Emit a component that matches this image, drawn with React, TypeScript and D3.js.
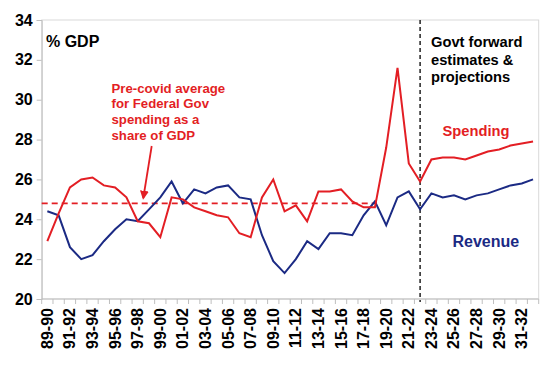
import React, { useRef, useEffect } from "react";
import * as d3 from "d3";

const years = [
  "89-90", "90-91", "91-92", "92-93", "93-94", "94-95", "95-96", "96-97",
  "97-98", "98-99", "99-00", "00-01", "01-02", "02-03", "03-04", "04-05",
  "05-06", "06-07", "07-08", "08-09", "09-10", "10-11", "11-12", "12-13",
  "13-14", "14-15", "15-16", "16-17", "17-18", "18-19", "19-20", "20-21",
  "21-22", "22-23", "23-24", "24-25", "25-26", "26-27", "27-28", "28-29",
  "29-30", "30-31", "31-32", "32-33",
];

const spending = [
  22.9, 24.3, 25.6, 26.0, 26.1, 25.7, 25.6, 25.1, 23.9, 23.8, 23.1, 25.1,
  25.0, 24.6, 24.4, 24.2, 24.1, 23.3, 23.1, 25.1, 26.0, 24.4, 24.7, 23.9,
  25.4, 25.4, 25.5, 24.9, 24.6, 24.6, 27.6, 31.6, 26.8, 25.9, 27.0, 27.1,
  27.1, 27.0, 27.2, 27.4, 27.5, 27.7, 27.8, 27.9,
];

const revenue = [
  24.4, 24.2, 22.6, 22.0, 22.2, 22.9, 23.5, 24.0, 23.9, 24.5, 25.1, 25.9,
  24.8, 25.5, 25.3, 25.6, 25.7, 25.1, 25.0, 23.2, 21.9, 21.3, 22.0, 22.9,
  22.5, 23.3, 23.3, 23.2, 24.2, 24.9, 23.7, 25.1, 25.4, 24.5, 25.3, 25.1,
  25.2, 25.0, 25.2, 25.3, 25.5, 25.7, 25.8, 26.0,
];

const yTicks = [20, 22, 24, 26, 28, 30, 32, 34];
// label every second financial year
const xTickLabels = years.filter((_, i) => i % 2 === 0);

const preCovidAvg = 24.8;
const avgEndYear = "18-19";
const forecastStart = "22-23";

const noteLines = ["Pre-covid average", "for Federal Gov", "spending as a", "share of GDP"];
const forecastLines = ["Govt forward", "estimates &", "projections"];

const RED = "#e31e24";
const NAVY = "#1b2a84";
const FONT = "'Liberation Sans', Arial, sans-serif";

const BudgetChart = ({ width, height }: { width: number; height: number }) => {
  const d3Container = useRef(null);

  useEffect(() => {
    d3.select(d3Container.current).selectAll("*").remove();

    const svg = d3
      .select(d3Container.current)
      .attr("width", width)
      .attr("height", height)
      .style("font-family", FONT);

    const left = 41.7;
    const right = 538.7;
    const top = 20;
    const bottom = 299;

    const xScale = d3.scaleBand().domain(years).range([left, right]).padding(0);
    const yScale = d3.scaleLinear().domain([20, 34]).range([bottom, top]);
    const cx = (yr: string) => (xScale(yr) as number) + xScale.bandwidth() / 2;

    // plot frame
    svg
      .append("rect")
      .attr("x", left)
      .attr("y", top)
      .attr("width", right - left)
      .attr("height", bottom - top)
      .attr("fill", "none")
      .attr("stroke", "#d9d9d9")
      .attr("stroke-width", 1);

    // y axis
    const yAxis = svg
      .append("g")
      .attr("transform", `translate(${left},0)`)
      .call(d3.axisLeft(yScale).tickValues(yTicks).tickSize(5).tickPadding(4));
    yAxis.select(".domain").attr("stroke", "#bfbfbf");
    yAxis.selectAll(".tick line").attr("stroke", "#bfbfbf");
    yAxis
      .selectAll(".tick text")
      .attr("fill", "#000")
      .style("font-size", "16px")
      .style("font-weight", "bold")
      .style("font-family", FONT);

    // x axis: tick marks on category boundaries
    const xAxis = svg.append("g").attr("transform", `translate(0,${bottom})`);
    xAxis
      .append("line")
      .attr("x1", left)
      .attr("x2", right)
      .attr("stroke", "#bfbfbf");
    xAxis
      .selectAll("line.tk")
      .data(years.concat(["end"]))
      .enter()
      .append("line")
      .attr("class", "tk")
      .attr("x1", (d: string) => (d === "end" ? right : (xScale(d) as number)))
      .attr("x2", (d: string) => (d === "end" ? right : (xScale(d) as number)))
      .attr("y1", 0)
      .attr("y2", 5)
      .attr("stroke", "#bfbfbf");
    xAxis
      .selectAll("text")
      .data(xTickLabels)
      .enter()
      .append("text")
      .attr("transform", (d: string) => `translate(${cx(d) + 5.5},9) rotate(-90)`)
      .attr("text-anchor", "end")
      .style("font-size", "16px")
      .style("font-weight", "bold")
      .text((d: string) => d);

    // pre-covid average
    svg
      .append("line")
      .attr("x1", left)
      .attr("x2", cx(avgEndYear) + 2)
      .attr("y1", yScale(preCovidAvg))
      .attr("y2", yScale(preCovidAvg))
      .attr("stroke", RED)
      .attr("stroke-width", 1.8)
      .attr("stroke-dasharray", "6,4");

    // forecast divider
    svg
      .append("line")
      .attr("x1", cx(forecastStart))
      .attr("x2", cx(forecastStart))
      .attr("y1", top)
      .attr("y2", bottom + 3)
      .attr("stroke", "#222")
      .attr("stroke-width", 1.5)
      .attr("stroke-dasharray", "4,3");

    const line = d3
      .line<number>()
      .x((_, i) => cx(years[i]))
      .y((d) => yScale(d));

    svg
      .append("path")
      .datum(revenue)
      .attr("d", line)
      .attr("fill", "none")
      .attr("stroke", NAVY)
      .attr("stroke-width", 2);

    svg
      .append("path")
      .datum(spending)
      .attr("d", line)
      .attr("fill", "none")
      .attr("stroke", RED)
      .attr("stroke-width", 2);

    // labels
    svg
      .append("text")
      .attr("x", 46)
      .attr("y", 47)
      .style("font-size", "16px")
      .style("font-weight", "bold")
      .text("% GDP");

    svg
      .append("g")
      .selectAll("text")
      .data(noteLines)
      .enter()
      .append("text")
      .attr("x", 111.5)
      .attr("y", (_: string, i: number) => 92.5 + i * 15.7)
      .attr("fill", RED)
      .style("font-size", "13.2px")
      .style("font-weight", "bold")
      .text((d: string) => d);

    // arrow to the average line
    const defs = svg.append("defs");
    defs
      .append("marker")
      .attr("id", "arrowhead")
      .attr("viewBox", "0 0 10 10")
      .attr("refX", 8)
      .attr("refY", 5)
      .attr("markerWidth", 5)
      .attr("markerHeight", 5)
      .attr("orient", "auto")
      .append("path")
      .attr("d", "M0,0 L10,5 L0,10 z")
      .attr("fill", RED);
    svg
      .append("line")
      .attr("x1", 151.7)
      .attr("y1", 146)
      .attr("x2", 143.3)
      .attr("y2", 198)
      .attr("stroke", RED)
      .attr("stroke-width", 1.8)
      .attr("marker-end", "url(#arrowhead)");

    svg
      .append("g")
      .selectAll("text")
      .data(forecastLines)
      .enter()
      .append("text")
      .attr("x", 431)
      .attr("y", (_: string, i: number) => 47 + i * 17.5)
      .attr("fill", "#000")
      .style("font-size", "14.7px")
      .style("font-weight", "bold")
      .text((d: string) => d);

    svg
      .append("text")
      .attr("x", 442.5)
      .attr("y", 136)
      .attr("fill", RED)
      .style("font-size", "14.7px")
      .style("font-weight", "bold")
      .text("Spending");

    svg
      .append("text")
      .attr("x", 452.5)
      .attr("y", 246.5)
      .attr("fill", NAVY)
      .style("font-size", "16px")
      .style("font-weight", "bold")
      .text("Revenue");
  }, [width, height]);

  return (
    <svg
      ref={d3Container}
      style={{ position: "absolute", left: 0, top: 0, background: "#fff" }}
    ></svg>
  );
};

export default function App() {
  return <BudgetChart width={548} height={366} />;
}
